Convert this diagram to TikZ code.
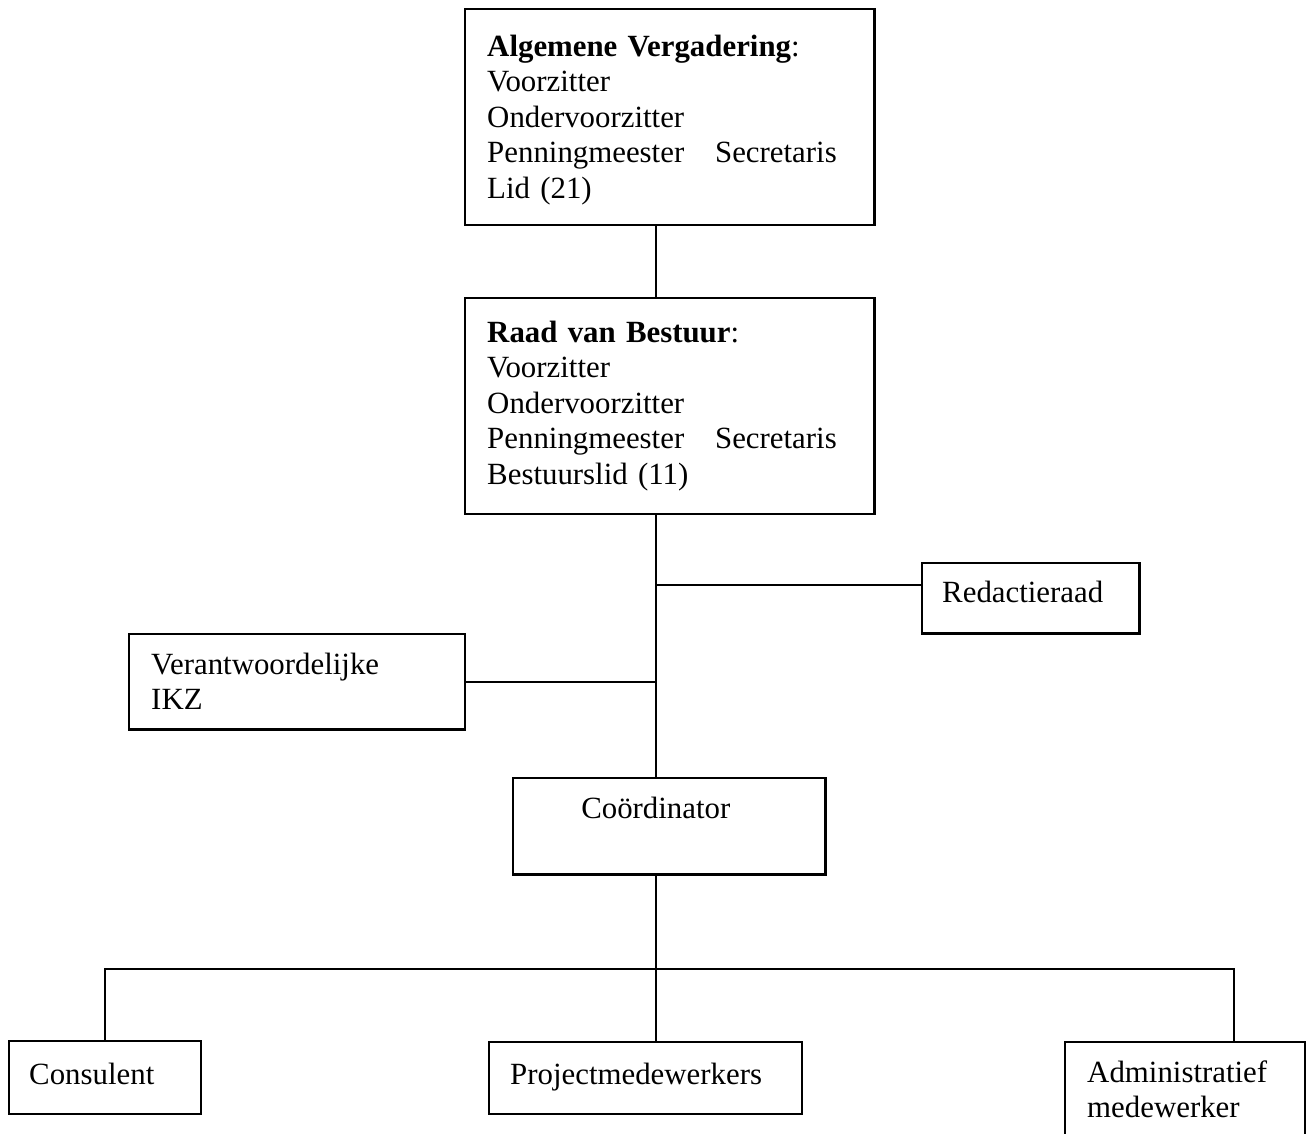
\documentclass[tikz,border=0pt]{standalone}
\usepackage{fontspec}
\setmainfont{Liberation Serif}
\tikzset{
  orgbox/.style={draw, line width=.95pt, anchor=north west, align=left,
    inner ysep=0pt, inner xsep=8.56pt, font=\fontsize{12pt}{13.8pt}\selectfont},
  link/.style={line width=.9pt}
}
\begin{document}
\begin{tikzpicture}[x=0.389pt,y=-0.389pt]
\useasboundingbox (0,0) rectangle (1307,1133);
% boards
\node[orgbox, text width=142pt, text height=18.3pt, text depth=65.7pt] (av) at (464,8)
  {\textbf{Algemene Vergadering}:\\ Voorzitter\\ Ondervoorzitter\\ Penningmeester\hspace{12pt}Secretaris\\ Lid (21)};
\node[orgbox, text width=142pt, text height=17.1pt, text depth=66.9pt] (rvb) at (464,297)
  {\textbf{Raad van Bestuur}:\\ Voorzitter\\ Ondervoorzitter\\ Penningmeester\hspace{12pt}Secretaris\\ Bestuurslid (11)};
% side boxes
\node[orgbox, inner xsep=7.78pt, text width=68.9pt, text height=15.2pt, text depth=12.1pt] (red) at (921,562) {Redactieraad};
\node[orgbox, text width=113.6pt, text height=15.6pt, text depth=21.4pt] (ikz) at (128,633) {Verantwoordelijke\\ IKZ};
\node[orgbox, text width=104.3pt, text height=15.6pt, text depth=21.8pt] (coord) at (512,777) {\hspace*{17.9pt}Coördinator};
% staff
\node[orgbox, inner xsep=7.78pt, text width=59.1pt, text height=16.7pt, text depth=11.7pt] (cons) at (8,1040) {Consulent};
\node[orgbox, inner xsep=8.17pt, text width=105.4pt, text height=16.3pt, text depth=11.7pt] (proj) at (488,1041) {Projectmedewerkers};
\node[orgbox, text width=76.2pt, text height=15.6pt, text depth=26.8pt] (adm) at (1064,1041) {Administratief\\ medewerker};
% lines
\coordinate (spine) at (656,0);
\coordinate (bus) at (0,969);
\coordinate (redin) at ([yshift=5.06pt]red.west);
\coordinate (admtop) at ([xshift=19.1pt]adm.north);
\draw[link] (av.south -| spine) -- (rvb.north -| spine);
\draw[link] (rvb.south -| spine) -- (coord.north -| spine);
\draw[link] (redin) -- (redin -| spine);
\draw[link] (ikz.east) -- (ikz.east -| spine);
\draw[link] (coord.south -| spine) -- (proj.north -| spine);
\draw[link] (cons.north) -- (cons.north |- bus) -- (admtop |- bus) -- (admtop);
\end{tikzpicture}
\end{document}
